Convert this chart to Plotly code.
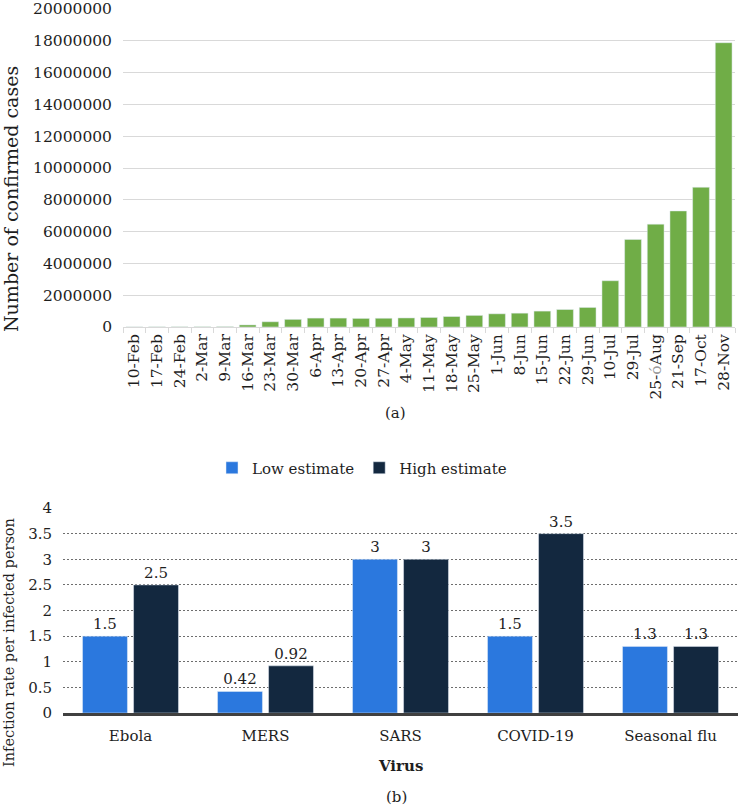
import plotly.graph_objects as go

# ---- Data (a): weekly confirmed cases ----
dates = ["10-Feb", "17-Feb", "24-Feb", "2-Mar", "9-Mar", "16-Mar", "23-Mar", "30-Mar",
         "6-Apr", "13-Apr", "20-Apr", "27-Apr", "4-May", "11-May", "18-May", "25-May",
         "1-Jun", "8-Jun", "15-Jun", "22-Jun", "29-Jun", "10-Jul", "29-Jul", "25-Aug",
         "21-Sep", "17-Oct", "28-Nov"]
date_labels = ["10-Feb", "17-Feb", "24-Feb", "2-Mar", "9-Mar", "16-Mar", "23-Mar", "30-Mar",
               "6-Apr", "13-Apr", "20-Apr", "27-Apr", "4-May", "11-May", "18-May", "25-May",
               "1-Jun", "8-Jun", "15-Jun", "22-Jun", "29-Jun", "10-Jul", "29-Jul",
               "25-<span style='color:#9a9a9a'>ό</span>Aug",
               "21-Sep", "17-Oct", "28-Nov"]
cases = [8000, 12000, 15000, 18000, 25000, 130000, 330000, 480000,
         560000, 560000, 540000, 550000, 570000, 600000, 660000, 730000,
         830000, 870000, 1000000, 1100000, 1230000, 2910000, 5510000, 6470000,
         7300000, 8790000, 17880000]

# ---- Data (b): infection rate per infected person ----
viruses = ["Ebola", "MERS", "SARS", "COVID-19", "Seasonal flu"]
low_estimate = [1.5, 0.42, 3, 1.5, 1.3]
high_estimate = [2.5, 0.92, 3, 3.5, 1.3]

FONT = "DejaVu Serif"
TXT = "#1e1e1e"
W, H = 739, 808

def px_x(x):
    return x / W

def px_y(y):
    return (H - y) / H

fig = go.Figure()

fig.add_trace(go.Bar(
    x=dates, y=cases, marker=dict(color="#70AD47"),
    width=0.74, offset=-0.37,
    xaxis="x", yaxis="y", showlegend=False, hoverinfo="x+y"))

fig.add_trace(go.Bar(
    x=viruses, y=low_estimate, name="Low estimate",
    marker=dict(color="#2B78DE"),
    texttemplate="%{y}", textposition="outside", cliponaxis=False,
    textfont=dict(family=FONT, size=15, color=TXT),
    xaxis="x2", yaxis="y2"))

fig.add_trace(go.Bar(
    x=viruses, y=high_estimate, name="High estimate",
    marker=dict(color="#13283F"),
    texttemplate="%{y}", textposition="outside", cliponaxis=False,
    textfont=dict(family=FONT, size=15, color=TXT),
    xaxis="x2", yaxis="y2"))

fig.update_layout(
    width=W, height=H,
    margin=dict(l=0, r=0, t=0, b=0, autoexpand=False),
    paper_bgcolor="white", plot_bgcolor="white",
    font=dict(family=FONT, color=TXT),
    barmode="group", bargap=0.244, bargroupgap=0.12,
    xaxis=dict(
        domain=[px_x(123), px_x(735)], anchor="y", type="category",
        tickmode="array", tickvals=dates, ticktext=date_labels,
        tickangle=-90, tickfont=dict(family=FONT, size=15.5, color=TXT),
        ticks="outside", tickson="boundaries", ticklen=5, tickcolor="#d9d9d9",
        showline=True, linecolor="#d9d9d9", linewidth=1, showgrid=False,
        automargin=False, ticklabeloverflow="allow",
    ),
    yaxis=dict(
        domain=[px_y(327), px_y(9)], anchor="x",
        range=[0, 20000000], dtick=2000000, tickformat="d",
        tickfont=dict(family=FONT, size=15.5, color=TXT),
        gridcolor="#d9d9d9", gridwidth=1, zeroline=False, showline=False,
        ticks="", ticklabelstandoff=10, automargin=False,
        ticklabeloverflow="allow",
    ),
    xaxis2=dict(
        domain=[px_x(63), px_x(738)], anchor="y2", type="category",
        tickfont=dict(family=FONT, size=15, color=TXT),
        showline=True, linecolor="#404040", linewidth=3, ticks="", showgrid=False,
        ticklabelstandoff=7, automargin=False,
    ),
    yaxis2=dict(
        domain=[px_y(713), px_y(508)], anchor="x2",
        range=[0, 4], dtick=0.5,
        tickfont=dict(family=FONT, size=15, color=TXT),
        gridcolor="#6e6e6e", griddash="1.5px,2.5px", gridwidth=1.2,
        zeroline=False, showline=False, ticks="", ticklabelstandoff=10,
        automargin=False,
    ),
    legend=dict(
        orientation="h", x=px_x(362), xanchor="center",
        y=px_y(468), yanchor="middle",
        font=dict(family=FONT, size=15, color=TXT),
        bgcolor="rgba(0,0,0,0)",
    ),
    annotations=[
        dict(text="Number of confirmed cases", x=px_x(11), y=px_y(199),
             xref="paper", yref="paper", textangle=-90, showarrow=False,
             font=dict(family=FONT, size=19, color=TXT), xanchor="center", yanchor="middle"),
        dict(text="(a)", x=px_x(395), y=px_y(413), xref="paper", yref="paper",
             showarrow=False, font=dict(family=FONT, size=15, color=TXT),
             xanchor="center", yanchor="middle"),
        dict(text="Infection rate per infected person", x=px_x(9), y=px_y(643),
             xref="paper", yref="paper", textangle=-90, showarrow=False,
             font=dict(family=FONT, size=14.5, color=TXT), xanchor="center", yanchor="middle"),
        dict(text="<b>Virus</b>", x=px_x(400), y=px_y(766), xref="paper", yref="paper",
             showarrow=False, font=dict(family=FONT, size=15, color=TXT),
             xanchor="center", yanchor="middle"),
        dict(text="(b)", x=px_x(396), y=px_y(797), xref="paper", yref="paper",
             showarrow=False, font=dict(family=FONT, size=15, color=TXT),
             xanchor="center", yanchor="middle"),
    ],
)

fig.write_html("out.html", config={"displayModeBar": False},
               post_script="document.body.style.margin='0';")
